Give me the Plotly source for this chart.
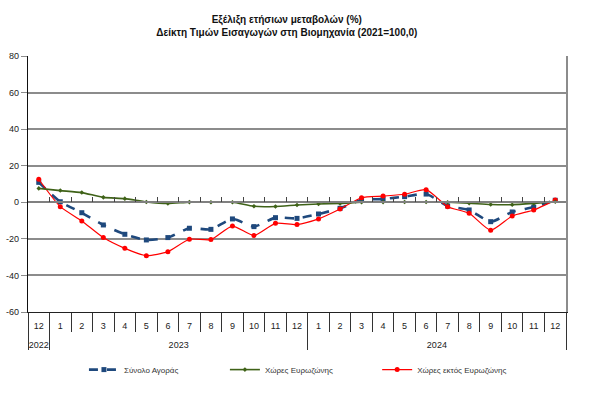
import plotly.graph_objects as go

years = ["2022"] + ["2023"] * 12 + ["2024"] * 12
# the first "12" carries a zero-width space so that Plotly keeps it as its own category
months = ["12\u200b"] + [str(m) for m in range(1, 13)] + [str(m) for m in range(1, 13)]

total = [10.9, 0.3, -5.7, -12.4, -17.5, -20.6, -19.3, -14.2, -14.8, -9.1, -13.3, -8.4, -8.8,
         -6.4, -3.3, 1.3, 1.8, 3.1, 4.5, -2.0, -4.2, -10.6, -5.3, -2.6, 1.1]
euro = [7.6, 6.4, 5.3, 2.7, 2.0, 0.2, -0.7, 0.1, 0.0, 0.0, -2.2, -2.3, -1.5,
        -0.9, -0.6, 0.0, 0.1, 0.2, 0.2, 0.0, -0.5, -1.2, -1.3, -0.6, 0.3]
non_euro = [12.6, -2.4, -10.2, -19.3, -25.2, -29.2, -27.0, -20.2, -20.4, -13.0, -18.2, -11.5, -12.2,
            -9.1, -3.7, 2.5, 3.4, 4.4, 6.9, -2.4, -6.0, -15.3, -7.5, -4.2, 1.2]

y_ticks = [-60, -40, -20, 0, 20, 40, 60, 80]
y_tick_labels = ["-60", "-40", "-20", "0", "20", "40", "60", "80"]

names = ["Σύνολο Αγοράς", "Χώρες Ευρωζώνης", "Χώρες εκτός Ευρωζώνης"]
title_lines = ["Εξέλιξη ετήσιων μεταβολών (%)", "Δείκτη Τιμών Εισαγωγών στη Βιομηχανία (2021=100,0)"]

FONT = "Liberation Sans, Arial, sans-serif"
# year labels get a leading line break to sit lower, as in the reference
xcat = [["<br>" + y for y in years], months]

fig = go.Figure()
fig.add_trace(go.Scatter(
    x=xcat, y=total, name=names[0], mode="lines+markers", legend="legend",
    line=dict(color="#1F497D", width=2.6, dash="dash", shape="spline", smoothing=0.6),
    marker=dict(symbol="square", size=5, color="#1F497D")))
fig.add_trace(go.Scatter(
    x=xcat, y=non_euro, name=names[2], mode="lines+markers", legend="legend3",
    line=dict(color="#FF0000", width=1.2, shape="spline", smoothing=0.6),
    marker=dict(symbol="circle", size=5, color="#FF0000")))
fig.add_trace(go.Scatter(
    x=xcat, y=euro, name=names[1], mode="lines+markers", legend="legend2",
    line=dict(color="#3F6218", width=1.6, shape="spline", smoothing=0.6),
    marker=dict(symbol="diamond", size=3.5, color="#3F6218")))
# invisible helper trace to carry the zero-line category axis and the right border
fig.add_trace(go.Scatter(
    x=list(range(len(months))), y=euro, xaxis="x2", yaxis="y2", mode="lines",
    line=dict(width=0), opacity=0, showlegend=False, hoverinfo="skip"))

leg_common = dict(orientation="h", xanchor="left", y=-0.225, yanchor="middle",
                  font=dict(size=8, color="#333333"), itemwidth=30,
                  bgcolor="rgba(0,0,0,0)")

fig.update_layout(
    width=600, height=399,
    margin=dict(l=28, r=34, t=56, b=87, autoexpand=False),
    paper_bgcolor="white", plot_bgcolor="white",
    font=dict(family=FONT, size=9, color="#222222"),
    title=dict(text="<b>" + title_lines[0] + "<br>" + title_lines[1] + "</b>",
               x=0.478, xanchor="center", y=0.943, yanchor="top",
               font=dict(family=FONT, size=10, color="#111111")),
    showlegend=True,
    legend=dict(x=0.104, **leg_common),
    legend2=dict(x=0.366, **leg_common),
    legend3=dict(x=0.649, **leg_common),
    xaxis=dict(type="multicategory", tickson="boundaries", ticks="outside", ticklen=19,
               tickcolor="#333333", tickwidth=1, showline=True, linecolor="#222222",
               linewidth=1.2, showgrid=False, showdividers=True, dividercolor="#333333",
               dividerwidth=1.2, tickfont=dict(family=FONT, size=9, color="#222222"),
               ticklabelstandoff=5,
               range=[-0.5, 24.5], automargin=False),
    yaxis=dict(range=[-60, 80], tickvals=y_ticks, ticktext=y_tick_labels,
               showgrid=True, gridcolor="#8C8C8C", gridwidth=1.5,
               zeroline=False, showline=True, linecolor="#111111", linewidth=1.2,
               ticks="outside", ticklen=6, tickcolor="#8C8C8C", automargin=False,
               tickfont=dict(family=FONT, size=9, color="#222222")),
    xaxis2=dict(overlaying="x", anchor="free", position=60 / 140, range=[-0.5, 24.5],
                tick0=-0.5, dtick=1, ticks="inside", ticklen=5, tickcolor="#444444",
                showline=True, linecolor="#808080", linewidth=1.5, showticklabels=False,
                showgrid=False, zeroline=False, automargin=False),
    yaxis2=dict(overlaying="y", anchor="x", side="right", range=[-60, 80],
                showline=True, linecolor="#8C8C8C", linewidth=1.5, showticklabels=False,
                showgrid=False, zeroline=False, ticks="", automargin=False),
)

fig.write_html("out.html",
               config={"displayModeBar": False},
               post_script="document.body.style.margin='0';document.body.style.padding='0';")
